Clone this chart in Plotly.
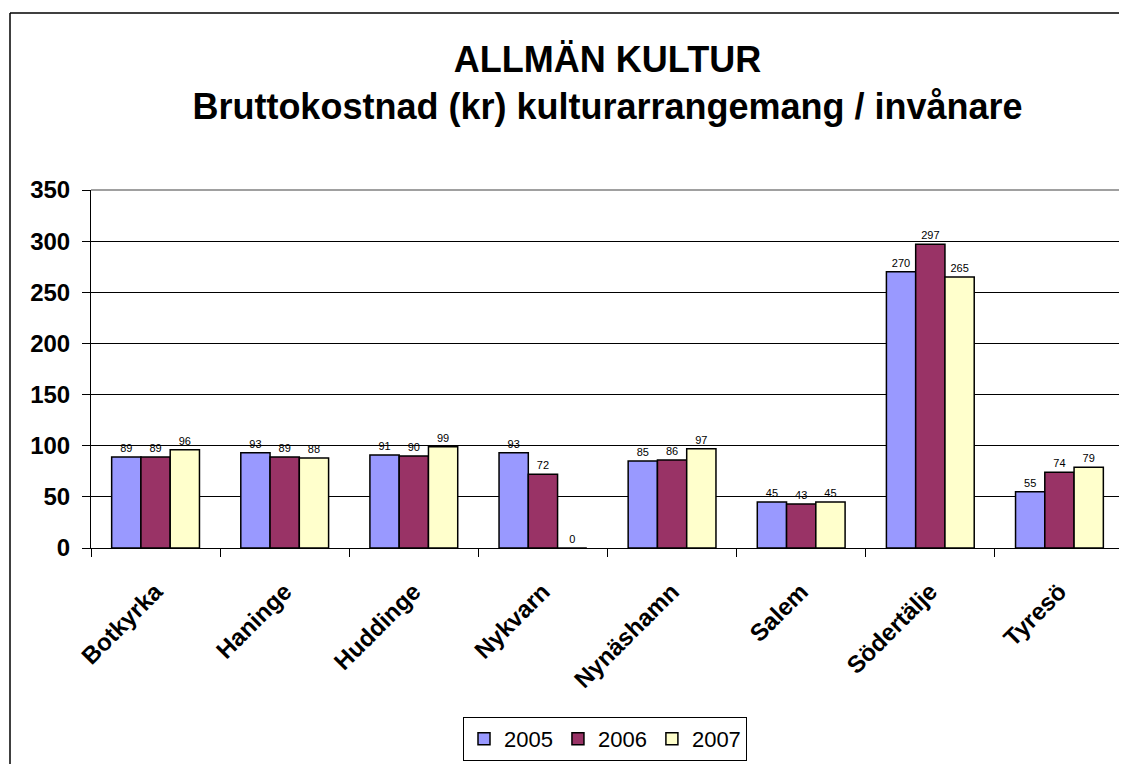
import plotly.graph_objects as go

kommuner = ['Botkyrka', 'Haninge', 'Huddinge', 'Nykvarn', 'Nynäshamn', 'Salem', 'Södertälje', 'Tyresö']
ar = ['2005', '2006', '2007']
v2005 = [89, 93, 91, 93, 85, 45, 270, 55]
v2006 = [89, 89, 90, 72, 86, 43, 297, 74]
v2007 = [96, 88, 99, 0, 97, 45, 265, 79]
farger = ['#9999FF', '#993366', '#FFFFCC']

FONT = 'Liberation Sans, Arial, sans-serif'

# page body has an 8px margin, so figure starts at (8, 8)
OFF = 8
W, H = 1127 - OFF, 764 - OFF
# plot area on screen: x 91..1124, y 190..550
L, R, T, B = 91 - OFF, 3, 190 - OFF, H - (550 - OFF)
pw = W - L - R
ph = H - T - B


def px_x(p):
    return (p - OFF - L) / pw


def px_y(p):
    return (H - B - (p - OFF)) / ph


fig = go.Figure()
for namn, varden, farg in zip(ar, [v2005, v2006, v2007], farger):
    fig.add_trace(go.Bar(
        x=kommuner, y=varden, name=namn,
        marker=dict(color=farg, line=dict(color='black', width=1.5)),
        text=[str(v) for v in varden], textposition='outside',
        textfont=dict(family=FONT, size=11, color='black'),
        cliponaxis=False,
    ))

fig.update_layout(
    width=W, height=H,
    margin=dict(l=L, r=R, t=T, b=B),
    paper_bgcolor='white', plot_bgcolor='white',
    barmode='group', bargap=0.32, bargroupgap=0,
    font=dict(family=FONT, color='black'),
    title=dict(
        text='ALLMÄN KULTUR<br>Bruttokostnad (kr) kulturarrangemang / invånare',
        x=0.5, xref='paper', y=0.915, yanchor='top',
        font=dict(family=FONT, size=36, color='black', weight='bold'),
    ),
    xaxis=dict(
        showline=True, linecolor='black', linewidth=1,
        ticks='outside', ticklen=8, tickcolor='black', tickson='boundaries',
        tickangle=-45, tickfont=dict(family=FONT, size=24, weight='bold'),
        ticklabelstandoff=19,
        showgrid=False,
    ),
    yaxis=dict(
        range=[0, 350], dtick=50,
        showline=True, linecolor='black', linewidth=1,
        ticks='outside', ticklen=8, tickcolor='black',
        tickfont=dict(family=FONT, size=24, weight='bold'),
        ticklabelstandoff=7,
        showgrid=True, gridcolor='black', gridwidth=1,
        zeroline=False,
    ),
    legend=dict(
        orientation='h', x=px_x(605), xanchor='center',
        y=px_y(720), yanchor='top',
        bordercolor='black', borderwidth=1,
        font=dict(family=FONT, size=22),
        itemwidth=30,
    ),
    shapes=[
        # outer chart border (left and top edges visible)
        dict(type='line', xref='paper', yref='paper',
             x0=px_x(10), x1=px_x(10), y0=px_y(12), y1=px_y(770),
             line=dict(color='black', width=1.5)),
        dict(type='line', xref='paper', yref='paper',
             x0=px_x(10), x1=px_x(1130), y0=px_y(12), y1=px_y(12),
             line=dict(color='black', width=1.5)),
        # plot area border top/right
        dict(type='line', xref='paper', yref='paper',
             x0=0, x1=1, y0=1, y1=1, line=dict(color='#808080', width=1.5)),
        dict(type='line', xref='paper', yref='paper',
             x0=1, x1=1, y0=0, y1=1, line=dict(color='#808080', width=1.5)),
    ],
)

fig.write_html('out.html')
